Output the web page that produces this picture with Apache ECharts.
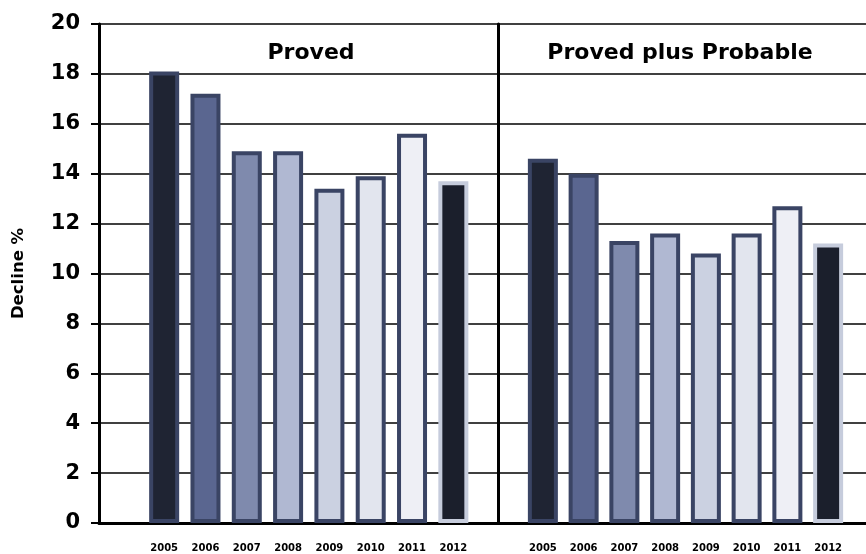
<!DOCTYPE html>
<html>
<head>
<meta charset="utf-8">
<script src="https://cdn.jsdelivr.net/npm/echarts@6/dist/echarts.min.js"></script>
<style>
  html, body { margin: 0; padding: 0; background: #ffffff; }
  #chart { width: 866px; height: 554px; }
</style>
</head>
<body>
<div id="chart"></div>
<script>
// Reserve decline rates by year
const years = ['2005', '2006', '2007', '2008', '2009', '2010', '2011', '2012'];
const proved = [18.1, 17.2, 14.9, 14.9, 13.4, 13.9, 15.6, 13.7];
const provedPlusProbable = [14.6, 14.0, 11.3, 11.6, 10.8, 11.6, 12.7, 11.2];

// Fill and outline per year
const fills = ['#1f2433', '#5a6690', '#7f8aad', '#b0b8d2', '#cbd1e1', '#e2e5ee', '#eeeff5', '#1b1f2c'];
const outlines = ['#3a4464', '#3a4464', '#3a4464', '#3a4464', '#3a4464', '#3a4464', '#3a4464', '#c6ccdc'];

const FONT = '"DejaVu Sans", Verdana, sans-serif';

function barData(values) {
  return values.map((v, i) => ({
    value: v,
    itemStyle: { color: fills[i], borderColor: outlines[i], borderWidth: 4 }
  }));
}

const hiddenY = (idx) => ({
  type: 'value', gridIndex: idx, min: 0, max: 20, interval: 2,
  show: false
});

const yearAxis = (idx) => ({
  type: 'category', gridIndex: idx, data: years,
  axisLine: { show: false }, axisTick: { show: false },
  axisLabel: {
    margin: 20, color: '#000', fontFamily: FONT, fontWeight: 'bold', fontSize: 10
  }
});

const chart = echarts.init(document.getElementById('chart'));
chart.setOption({
  animation: false,
  backgroundColor: '#ffffff',
  title: [
    { text: 'Proved', left: 306, top: 37, textAlign: 'center',
      textStyle: { fontFamily: FONT, fontWeight: 'bold', fontSize: 22, color: '#000' } },
    { text: 'Proved plus Probable', left: 675, top: 37, textAlign: 'center',
      textStyle: { fontFamily: FONT, fontWeight: 'bold', fontSize: 22, color: '#000' } }
  ],
  grid: [
    // frame with value scale and gridlines
    { left: 99, right: 0, top: 24, bottom: 31 },
    // panel divider
    { left: 498, right: 0, top: 24, bottom: 31 },
    // Proved bars
    { left: 143.5, width: 330.5, top: 24, bottom: 31 },
    // Proved plus Probable bars
    { left: 522.5, width: 326, top: 24, bottom: 31 }
  ],
  xAxis: [
    { type: 'value', gridIndex: 0, min: 0, max: 1, position: 'bottom',
      axisLine: { show: true, onZero: false, lineStyle: { color: '#000', width: 3 } },
      axisTick: { show: false }, axisLabel: { show: false }, splitLine: { show: false } },
    { type: 'value', gridIndex: 1, min: 0, max: 1, show: false },
    yearAxis(2),
    yearAxis(3)
  ],
  yAxis: [
    { type: 'value', gridIndex: 0, min: 0, max: 20, interval: 2,
      name: 'Decline %', nameLocation: 'middle', nameGap: 72, nameRotate: 90,
      nameTextStyle: { fontFamily: FONT, fontWeight: 'bold', fontSize: 16.5, color: '#000' },
      axisLine: { show: true, lineStyle: { color: '#000', width: 3 } },
      axisTick: { show: true, length: 8, lineStyle: { color: '#000', width: 2 } },
      axisLabel: { margin: 19, color: '#000', fontFamily: FONT, fontWeight: 'bold', fontSize: 21 },
      splitLine: { show: true, lineStyle: { color: '#000', width: 1.5 } } },
    { type: 'value', gridIndex: 1, min: 0, max: 20, interval: 2,
      axisLine: { show: true, lineStyle: { color: '#000', width: 3 } },
      axisTick: { show: false }, axisLabel: { show: false }, splitLine: { show: false } },
    hiddenY(2),
    hiddenY(3)
  ],
  series: [
    { name: 'Proved', type: 'bar', xAxisIndex: 2, yAxisIndex: 2,
      barWidth: 30, data: barData(proved) },
    { name: 'Proved plus Probable', type: 'bar', xAxisIndex: 3, yAxisIndex: 3,
      barWidth: 30, data: barData(provedPlusProbable) }
  ]
});
</script>
</body>
</html>
